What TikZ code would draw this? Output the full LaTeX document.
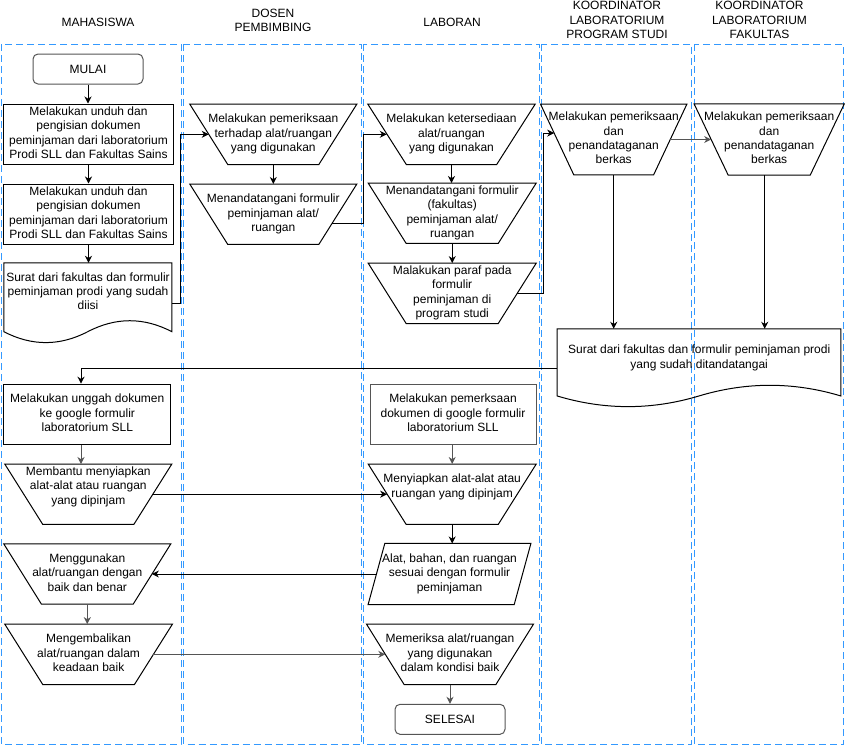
\documentclass[tikz,border=0pt]{standalone}
\usepackage{fontspec}
\setmainfont{Liberation Sans}
\usetikzlibrary{arrows.meta,calc}
\definecolor{lanec}{RGB}{51,153,255}
\definecolor{dgray}{RGB}{85,85,85}
\newcommand\mystrut{\rule[-3.04pt]{0pt}{14.4pt}}
\begin{document}
\begin{tikzpicture}[x=1pt,y=-1pt,
  lane/.style={draw=lanec, line width=1pt, dash pattern=on 7pt off 4pt},
  txt/.style={font=\fontsize{12}{14.4}\selectfont, align=center, inner sep=0pt,
    execute at begin node=\mystrut, execute at end node=\mystrut},
  sz/.style 2 args={minimum width=#1, minimum height=#2},
  rbox/.style={txt, draw=black, line width=1pt},
  term/.style={txt, draw=dgray, line width=1pt, rounded corners=5pt},
  outl/.style={draw=black, line width=1pt, line join=miter},
  arr/.style={draw=black, line width=1pt, -{Stealth[length=7pt,width=7pt,inset=2.2pt]}},
  garr/.style={arr, draw=dgray}
]
\useasboundingbox (0,0) rectangle (845,745);

% lanes
\draw[lane] (1,44) rectangle (181,744);
\draw[lane] (183.5,44) rectangle (361,744);
\draw[lane] (363,44) rectangle (539.5,744);
\draw[lane] (541,44) rectangle (691,744);
\draw[lane] (694,44) rectangle (843.5,744);

% headers
\node[txt] (hM) at (98,22.5) {MAHASISWA};
\node[txt] (hD) at (273,22) {DOSEN\\PEMBIMBING};
\node[txt] (hL) at (452,22.5) {LABORAN};
\node[txt] (hK1) at (617,21.5) {KOORDINATOR\\LABORATORIUM\\PROGRAM STUDI};
\node[txt] (hK2) at (759.5,21.5) {KOORDINATOR\\LABORATORIUM\\FAKULTAS};

% lane 1
\node[term, sz={110pt}{30pt}] (start) at (88,69) {MULAI};
\node[rbox, sz={170.4pt}{60pt}] (b1) at (88.5,134) {Melakukan unduh dan\\pengisian dokumen\\peminjaman dari laboratorium\\Prodi SLL dan Fakultas Sains};
\node[rbox, sz={170.4pt}{60pt}] (b2) at (88.5,214) {Melakukan unduh dan\\pengisian dokumen\\peminjaman dari laboratorium\\Prodi SLL dan Fakultas Sains};
\node[inner sep=0pt] (d1) at (88,303.5) {\parbox[c][81pt][c]{168pt}{\centering\fontsize{12}{14.4}\selectfont\mystrut Surat dari fakultas dan formulir\\peminjaman prodi yang sudah\\diisi\mystrut\par\vspace*{24.3pt}}};
\node[rbox, sz={166.7pt}{60pt}] (b3) at (87.3,414.2) {Melakukan unggah dokumen\\ke google formulir\\laboratorium SLL};
\node[txt, sz={166.7pt}{60pt}] (t1) at (88.3,494.2) {Membantu menyiapkan\\alat-alat atau ruangan\\yang dipinjam\\};
\node[txt, sz={166.7pt}{60pt}] (t2) at (87.3,574) {Menggunakan\\alat/ruangan dengan\\baik dan benar};
\node[txt, sz={167.3pt}{60pt}] (t3) at (88.6,654.3) {Mengembalikan\\alat/ruangan dalam\\keadaan baik};

% lane 2
\node[txt, sz={166.7pt}{60pt}] (p1) at (273.3,134.3) {Melakukan pemeriksaan\\terhadap alat/ruangan\\yang digunakan};
\node[txt, sz={166.7pt}{60pt}] (p2) at (273.3,214.2) {Menandatangani formulir\\peminjaman alat/\\ruangan};

% lane 3
\node[txt, sz={167pt}{60pt}] (l1) at (451.5,134.3) {Melakukan ketersediaan\\alat/ruangan\\yang digunakan};
\node[txt, sz={167.7pt}{60pt}] (l2) at (452.2,213.2) {Menandatangani formulir\\(fakultas)\\peminjaman alat/\\ruangan};
\node[txt, sz={167.7pt}{60pt}] (l3) at (452.2,293.3) {Malakukan paraf pada\\formulir\\peminjaman di\\program studi};
\node[txt, draw=dgray, line width=1pt, sz={166pt}{60pt}] (l4) at (453,414.2) {Melakukan pemerksaan\\dokumen di google formulir\\laboratorium SLL};
\node[txt, sz={167.7pt}{60pt}] (l5) at (452.2,494.2) {Menyiapkan alat-alat atau\\ruangan yang dipinjam\\};
\node[txt, sz={162.4pt}{60.7pt}] (l6) at (449.5,574) {Alat, bahan, dan ruangan\\sesuai dengan formulir\\peminjaman};
\node[txt, sz={166.6pt}{60pt}] (l7) at (450,654.3) {Memeriksa alat/ruangan\\yang digunakan\\dalam kondisi baik};
\node[term, sz={110pt}{30pt}] (end) at (450,719.3) {SELESAI};

% lanes 4 and 5
\node[txt, sz={146pt}{70.4pt}] (k1) at (613.7,139.5) {Melakukan pemeriksaan\\dan\\penandataganan\\berkas};
\node[txt, sz={149.7pt}{70.7pt}] (k2) at (769.2,139.5) {Melakukan pemeriksaan\\dan\\penandataganan\\berkas};
\node[inner sep=0pt] (d2) at (699.2,368.5) {\parbox[c][79pt][c]{283.7pt}{\centering\fontsize{12}{14.4}\selectfont\mystrut Surat dari fakultas dan formulir peminjaman prodi\\yang sudah ditandatangai\mystrut\par\vspace*{23.7pt}}};

% outlines of inverted trapezoids
\foreach \n/\o in {p1/38,p2/38,l1/38.5,l2/38,l3/38,l5/38,l7/37.6,t1/38,t2/37.7,t3/38,k1/33.3,k2/34}
  \draw[outl] (\n.north west) -- (\n.north east) -- ($(\n.south east)+(-\o,0)$) -- ($(\n.south west)+(\o,0)$) -- cycle;
% parallelogram
\draw[outl] ($(l6.north west)+(16.7,0)$) -- (l6.north east) -- ($(l6.south east)+(-16.7,0)$) -- (l6.south west) -- cycle;
% documents
\draw[outl, shift={(d1.north west)}] (0,0) -- (168,0) -- (168,68.85) .. controls (140,54.27) and (112,54.27) .. (84,68.85) .. controls (56,83.43) and (28,83.43) .. (0,68.85) -- cycle;
\draw[outl, shift={(d2.north west)}] (0,0) -- (283.7,0) -- (283.7,67.15) .. controls (236.4,52.93) and (189.1,52.93) .. (141.85,67.15) .. controls (94.57,81.37) and (47.28,81.37) .. (0,67.15) -- cycle;

% connectors
\draw[arr] (start.south) -- (start.south |- b1.north);
\draw[arr] (b1.south) -- (b1.south |- b2.north);
\draw[arr] (b2.south) -- (b2.south |- d1.north);
\draw[arr] (d1.east) -- ++(8,0) |- ($(p1.west)+(19,0)$);
\draw[arr] (p1.south) -- (p1.south |- p2.north);
\draw[arr] ($(p2.north east)+(-25.1,39.7)$) -- ++(31.4,0) |- ($(l1.west)+(19,0)$);
\draw[arr] (l1.south) -- (l1.south |- l2.north);
\draw[arr] (l2.south) -- (l2.south |- l3.north);
\draw[arr] ($(l3.east)+(-19,0)$) -- ++(26,0) |- ($(k1.north west)+(13.7,29)$);
\draw[garr] ($(k1.east)+(-16.7,0)$) -- ($(k2.west)+(17,0)$);
\draw[arr] (k1.south) -- (k1.south |- d2.north);
\draw[arr] ([xshift=-4.5pt]k2.south) -- ([xshift=-4.5pt]k2.south |- d2.north);
\draw[arr] (d2.west) -| ([xshift=-6.3pt]b3.north);
\draw[garr] ([xshift=-6.3pt]b3.south) -- ([xshift=-6.3pt]b3.south |- t1.north);
\draw[arr] ($(t1.east)+(-19,0)$) -- ($(l5.west)+(19,0)$);
\draw[garr] (l5.north |- l4.south) -- (l5.north);
\draw[arr] (l5.south) -- (l5.south |- l6.north);
\draw[arr] ($(l6.west)+(8.4,0)$) -- ($(t2.east)+(-19,0)$);
\draw[garr] (t2.south) -- (t2.south |- t3.north);
\draw[garr] ($(t3.east)+(-19,0)$) -- ($(l7.west)+(18.8,0)$);
\draw[garr] (l7.south) -- (l7.south |- end.north);
\end{tikzpicture}
\end{document}
